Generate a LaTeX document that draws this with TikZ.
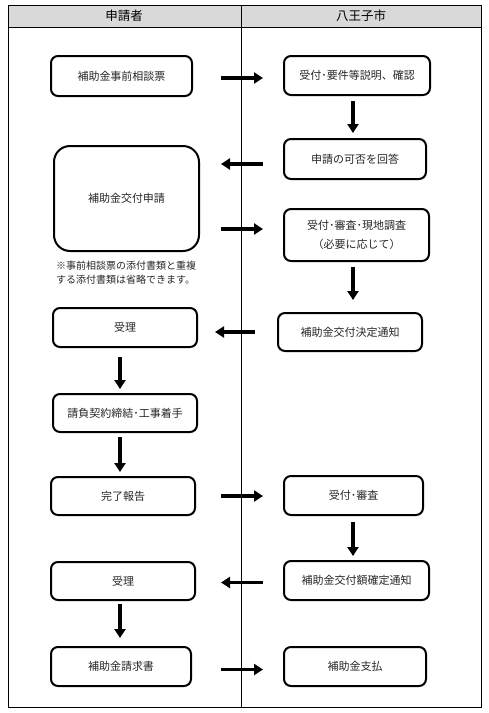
\documentclass[tikz,border=0pt]{standalone}
\usepackage{fontspec}
\newfontfamily\jp{Noto Sans CJK JP}
\usetikzlibrary{arrows.meta}

\tikzset{
  box/.style={draw,line width=2pt,rounded corners=7pt,inner sep=0pt,
    font=\jp\fontsize{11}{19}\selectfont,text=black!85,align=center},
  arr/.style={line width=3.2pt,-{Triangle[width=11pt,length=9pt]}},
}

\begin{document}
\begin{tikzpicture}[x=1pt,y=-1pt]
  \useasboundingbox (0,0) rectangle (489,713);
  % header and lanes
  \fill[black!15] (8,5) rectangle (481,27);
  \draw[line width=0.9pt] (8,5) rectangle (481,707);
  \draw[line width=0.9pt] (8,27) -- (481,27);
  \draw[line width=0.9pt] (241,5) -- (241,707);
  \node[font=\jp\fontsize{12.5}{14}\selectfont] (lanel) at (124,16) {申請者};
  \node[font=\jp\fontsize{12.5}{14}\selectfont] (laner) at (361,16) {八王子市};
  % steps
  \node[box,minimum width=141pt,minimum height=40pt] (soudan) at (121.5,76) {補助金事前相談票};
  \node[box,minimum width=146pt,minimum height=39pt] (setsumei) at (357,75.5) {受付･要件等説明、確認};
  \node[box,minimum width=142pt,minimum height=40pt] (kahi) at (355,159) {申請の可否を回答};
  \node[box,minimum width=145pt,minimum height=105pt,rounded corners=16pt] (shinsei) at (126.5,198.5) {補助金交付申請};
  \node[box,minimum width=145pt,minimum height=52pt] (shinsa) at (356.5,235) {受付･審査･現地調査\\（必要に応じて）};
  \node[box,minimum width=144pt,minimum height=38pt] (kettei) at (350,332) {補助金交付決定通知};
  \node[box,minimum width=144pt,minimum height=39pt] (juri) at (125,327.5) {受理};
  \node[box,minimum width=144pt,minimum height=38pt] (keiyaku) at (125,413) {請負契約締結･工事着手};
  \node[box,minimum width=144pt,minimum height=38pt] (kanryo) at (123,496) {完了報告};
  \node[box,minimum width=139pt,minimum height=39pt] (uketsuke) at (353.5,495.5) {受付･審査};
  \node[box,minimum width=145pt,minimum height=39pt] (kakutei) at (356.5,580.5) {補助金交付額確定通知};
  \node[box,minimum width=144pt,minimum height=38pt] (juri2) at (123,581) {受理};
  \node[box,minimum width=140pt,minimum height=39pt] (seikyu) at (121,666.5) {補助金請求書};
  \node[box,minimum width=142pt,minimum height=39pt] (shiharai) at (355,666.5) {補助金支払};
  \node[anchor=north west,align=left,inner sep=0pt,font=\jp\fontsize{10}{13.5}\selectfont,text=black!85]
    (chui) at (56,261) {※事前相談票の添付書類と重複\\する添付書類は省略できます。};
  % arrows
  \coordinate (lx) at (221,0);
  \coordinate (rx) at (263,0);
  \coordinate (lx2) at (215,0);
  \coordinate (rx2) at (255,0);
  \coordinate (lc) at (120,0);
  \coordinate (rc) at (353,0);
  \draw[arr] ([yshift=-2pt]soudan -| lx) -- ([yshift=-2pt]soudan -| rx);
  \draw[arr,shorten <=5pt,shorten >=5pt] (setsumei.south -| rc) -- (kahi.north -| rc);
  \draw[arr] ([yshift=-5pt]kahi -| rx) -- ([yshift=-5pt]kahi -| lx);
  \draw[arr] ([yshift=6pt]shinsa -| lx) -- ([yshift=6pt]shinsa -| rx);
  \draw[arr,shorten <=5pt,shorten >=12pt] (shinsa.south -| rc) -- (kettei.north -| rc);
  \draw[arr] (kettei -| rx2) -- (kettei -| lx2);
  \draw[arr,shorten <=9pt,shorten >=4pt] (juri.south -| lc) -- (keiyaku.north -| lc);
  \draw[arr,shorten <=4pt,shorten >=4pt] (keiyaku.south -| lc) -- (kanryo.north -| lc);
  \draw[arr] (kanryo -| lx) -- (kanryo -| rx);
  \draw[arr,shorten <=6pt,shorten >=4pt] (uketsuke.south -| rc) -- (kakutei.north -| rc);
  \draw[arr] ([yshift=-2pt]kakutei -| rx) -- ([yshift=-2pt]kakutei -| lx);
  \draw[arr,shorten <=3pt,shorten >=8pt] (juri2.south -| lc) -- (seikyu.north -| lc);
  \draw[arr] ([yshift=-3pt]seikyu -| lx) -- ([yshift=-3pt]seikyu -| rx);
\end{tikzpicture}
\end{document}
